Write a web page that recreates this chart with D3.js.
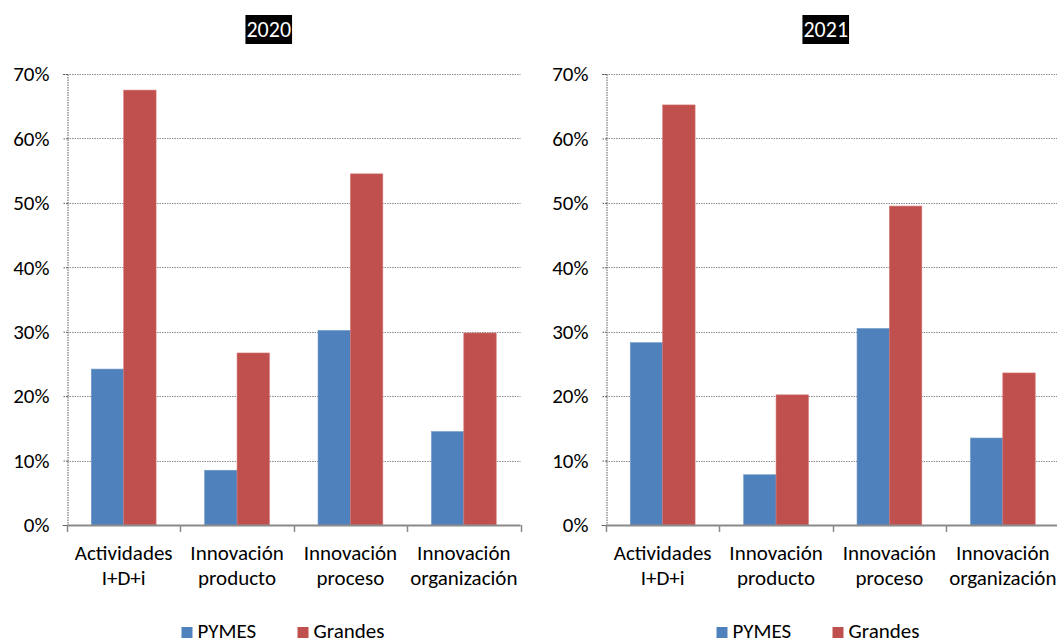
<!DOCTYPE html>
<html>
<head>
<meta charset="utf-8">
<script src="https://cdn.jsdelivr.net/npm/d3@7"></script>
<style>
  html, body { margin: 0; padding: 0; background: #fff; }
  svg { display: block; font-family: Carlito, Lato, "Open Sans", sans-serif; }
</style>
</head>
<body>
<svg id="chart" width="1057" height="639"></svg>
<script>
const categories = [["Actividades", "I+D+i"], ["Innovación", "producto"], ["Innovación", "proceso"], ["Innovación", "organización"]];
const seriesNames = ["PYMES", "Grandes"];
const years = ["2020", "2021"];
const pymes2020 = [0.242, 0.085, 0.302, 0.145];
const grandes2020 = [0.675, 0.267, 0.545, 0.298];
const pymes2021 = [0.283, 0.078, 0.305, 0.135];
const grandes2021 = [0.652, 0.202, 0.495, 0.236];
const yTicks = [0, 0.1, 0.2, 0.3, 0.4, 0.5, 0.6, 0.7];
const colors = ["#4F81BD", "#C0504D"];

const panels = [
  { year: years[0], series: [pymes2020, grandes2020], left: 67, right: 520.5, legendX: 181.5 },
  { year: years[1], series: [pymes2021, grandes2021], left: 606, right: 1059.5, legendX: 716.5 }
];

const svg = d3.select("#chart");
const y = d3.scaleLinear().domain([0, 0.7]).range([525, 74]);
const fontSize = 21;

panels.forEach((p, pi) => {
  const g = svg.append("g");
  const catKeys = categories.map((c, i) => i);
  const x0 = d3.scaleBand().domain(catKeys).range([p.left, p.right]).padding(0);
  const x1 = d3.scaleBand().domain(seriesNames).range([0, x0.bandwidth()]).paddingInner(0).paddingOuter(0.75);

  // gridlines
  g.append("g").selectAll("line").data(yTicks.slice(1)).join("line")
    .attr("x1", p.left).attr("x2", p.right)
    .attr("y1", d => Math.round(y(d)) + 0.5).attr("y2", d => Math.round(y(d)) + 0.5)
    .attr("stroke", "#8c8c8c").attr("stroke-width", 1).attr("stroke-dasharray", "1.5,1");

  // y axis
  const yAxis = d3.axisLeft(y).tickValues(yTicks).tickFormat(d3.format(".0%")).tickSize(5).tickPadding(13);
  const ya = g.append("g").attr("transform", `translate(${p.left + 0.5},0)`).call(yAxis);
  ya.attr("font-family", null);
  ya.select(".domain").attr("stroke", "#777").attr("stroke-dasharray", "1.5,1").attr("stroke-width", 1.2);
  ya.selectAll(".tick line").attr("stroke", "#555").attr("stroke-dasharray", "1.5,1");
  ya.selectAll(".tick text").attr("font-size", fontSize).attr("fill", "#000");

  // bars
  p.series.forEach((vals, si) => {
    g.append("g").selectAll("rect").data(vals).join("rect")
      .attr("x", (d, i) => x0(i) + x1(seriesNames[si]))
      .attr("width", x1.bandwidth())
      .attr("y", d => y(d))
      .attr("height", d => y(0) - y(d))
      .attr("fill", colors[si])
      .attr("stroke", si === 0 ? "#6f98c9" : "#d47774")
      .attr("stroke-width", 0.6);
  });

  // x axis line
  g.append("line").attr("x1", p.left).attr("x2", p.right).attr("y1", y(0) + 0.5).attr("y2", y(0) + 0.5)
    .attr("stroke", "#8a8a8a").attr("stroke-width", 2);
  const bounds = catKeys.map(i => x0(i)).concat([p.right]);
  g.append("g").selectAll("line").data(bounds).join("line")
    .attr("x1", d => Math.round(d) + 0.5).attr("x2", d => Math.round(d) + 0.5)
    .attr("y1", y(0)).attr("y2", y(0) + 7)
    .attr("stroke", "#8a8a8a").attr("stroke-width", 1.5);

  // category labels
  const lab = g.append("g").selectAll("text").data(categories).join("text")
    .attr("text-anchor", "middle").attr("font-size", fontSize).attr("fill", "#000");
  lab.each(function(d, i) {
    const t = d3.select(this);
    d.forEach((line, li) => {
      t.append("tspan").attr("x", x0(i) + x0.bandwidth() / 2).attr("y", 560 + li * 25).text(line);
    });
  });

  // title with black background
  const cx = (p.left + p.right) / 2 + (pi === 0 ? -25 : -7);
  const tg = g.append("g");
  const bg = tg.append("rect").attr("fill", "#000");
  const title = tg.append("text").attr("x", cx).attr("y", 37).attr("text-anchor", "middle")
    .attr("font-size", 22).attr("fill", "#fff").text(p.year);
  const bb = title.node().getBBox();
  bg.attr("x", bb.x - 1).attr("y", 15).attr("width", bb.width + 2).attr("height", 29);

  // legend
  const leg = g.append("g");
  const legOffsets = [0, 116];
  seriesNames.forEach((s, si) => {
    const lx = p.legendX + legOffsets[si];
    leg.append("rect").attr("x", lx).attr("y", 627).attr("width", 11).attr("height", 11).attr("fill", colors[si]);
    leg.append("text").attr("x", lx + 16).attr("y", 638).attr("font-size", fontSize).attr("fill", "#000").text(s);
  });
});
</script>
</body>
</html>
